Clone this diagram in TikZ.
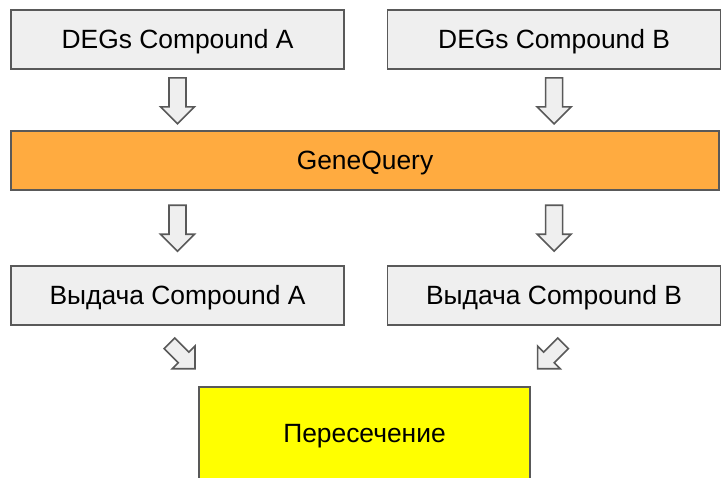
\documentclass[tikz,border=0pt]{standalone}
\usepackage{fontspec}
\setmainfont{Liberation Sans}
\usepackage{xcolor}
\usetikzlibrary{positioning, calc}

\definecolor{linegray}{HTML}{595959}
\definecolor{boxgray}{HTML}{EFEFEF}
\definecolor{qorange}{HTML}{FFAB40}
\definecolor{hityellow}{HTML}{FFFF00}

% block arrow: start, angle, length, half shaft, half head, head length
\newcommand{\blkarrow}[6]{%
  \draw[blkarr, shift={#1}, rotate=#2] (0,-#4) -- (#3-#6,-#4) -- (#3-#6,-#5) -- (#3,0)
    -- (#3-#6,#5) -- (#3-#6,#4) -- (0,#4) -- cycle;}

\begin{document}
\begin{tikzpicture}[
    x=0.5pt, y=-0.5pt,
    every node/.style={font=\fontsize{13.2}{16}\selectfont},
    degbox/.style={rectangle, draw=linegray, line width=0.8pt, fill=boxgray, minimum width=166.5pt, minimum height=29.5pt, inner sep=0pt, text height=9.5pt, text depth=0.7pt},
    querybox/.style={degbox, fill=qorange, minimum width=354pt},
    hitbox/.style={degbox, fill=hityellow, minimum width=165.5pt, minimum height=47pt},
    blkarr/.style={draw=linegray, line width=0.8pt, fill=boxgray, line join=miter}
]
\clip (0,0) rectangle (721,477);

% Nodes
\node[degbox] (dA) at (177.5,39.5) {DEGs Compound A};
\node[degbox, right=21pt of dA] (dB) {DEGs Compound B};
\node[querybox] (gq) at (365,160.5) {GeneQuery};
\node[degbox] (oA) at (177.5,295.5) {Выдача Compound A};
\node[degbox, right=21pt of oA] (oB) {Выдача Compound B};
\node[hitbox] (inter) at (364.5,434) {Пересечение};

% Block arrows
\blkarrow{($(dA.south)+(0,8)$)}{-90}{46}{8.5}{17}{17}
\blkarrow{($(dB.south)+(0,8)$)}{-90}{46}{8.5}{17}{17}
\blkarrow{($(oA.north)+(0,-60)$)}{-90}{46}{8.5}{17}{17}
\blkarrow{($(oB.north)+(0,-60)$)}{-90}{46}{8.5}{17}{17}
\blkarrow{($(oA.south)+(-8,17.5)$)}{-45}{36}{7.5}{16}{16}
\blkarrow{($(oB.south)+(9,17.5)$)}{-135}{36}{7.5}{16}{16}

\end{tikzpicture}
\end{document}
